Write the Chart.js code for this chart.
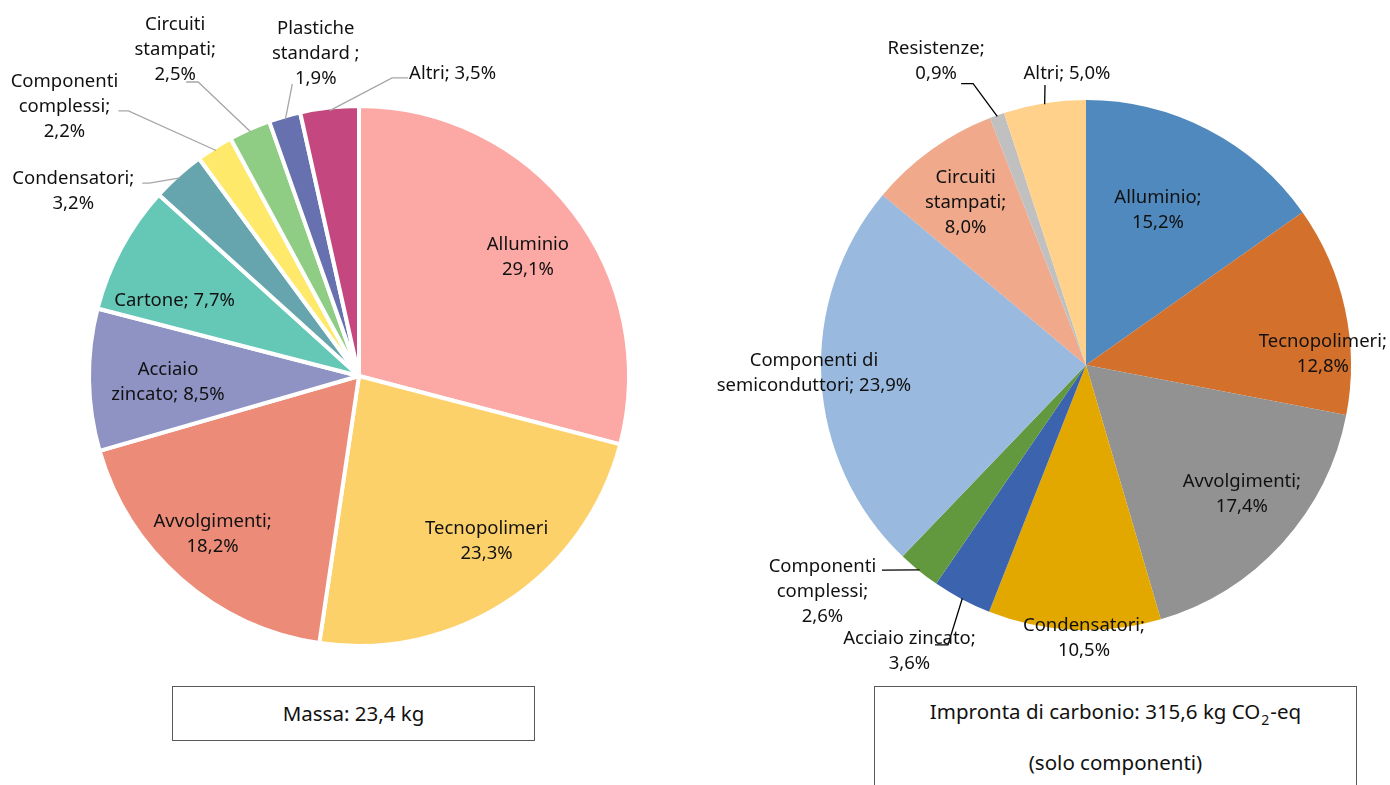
<!DOCTYPE html>
<html><head><meta charset="utf-8">
<script src="https://cdn.jsdelivr.net/npm/chart.js@4"></script>
<style>
html,body{margin:0;padding:0;background:#fff;overflow:hidden;}
#wrap{position:relative;width:1390px;height:785px;}
canvas{position:absolute;left:0;top:0;}
.box{position:absolute;border:1px solid #595959;font-family:"Noto Sans",sans-serif;font-size:20.5px;color:#111;text-align:center;box-sizing:border-box;background:#fff;}
.sub{font-size:14px;position:relative;top:6px;padding:0 1px;}
</style></head>
<body><div id="wrap">
<canvas id="c1" width="1390" height="785"></canvas>
<canvas id="c2" width="1390" height="785"></canvas>
<div class="box" style="left:172px;top:686px;width:363px;height:55px;line-height:53px;">Massa: 23,4 kg</div>
<div class="box" style="left:874px;top:686px;width:483px;height:130px;line-height:49px;padding-top:0px;">Impronta di carbonio: 315,6 kg CO<span class="sub">2</span>-eq<br>(solo componenti)</div>
</div>
<script>
// ---- data ----
const massCategories = ['Alluminio','Tecnopolimeri','Avvolgimenti','Acciaio zincato','Cartone','Condensatori','Componenti complessi','Circuiti stampati','Plastiche standard','Altri'];
const massValues = [29.1,23.3,18.2,8.5,7.7,3.2,2.2,2.5,1.9,3.5];
const massLabelLines = [['Alluminio','{v}'],['Tecnopolimeri','{v}'],['Avvolgimenti;','{v}'],['Acciaio','zincato; {v}'],['Cartone; {v}'],['Condensatori;','{v}'],['Componenti','complessi;','{v}'],['Circuiti','stampati;','{v}'],['Plastiche','standard ;','{v}'],['Altri; {v}']];

const carbonCategories = ['Alluminio','Tecnopolimeri','Avvolgimenti','Condensatori','Acciaio zincato','Componenti complessi','Componenti di semiconduttori','Circuiti stampati','Resistenze','Altri'];
const carbonValues = [15.2,12.8,17.4,10.5,3.6,2.6,23.9,8.0,0.9,5.0];
const carbonLabelLines = [['Alluminio;','{v}'],['Tecnopolimeri;','{v}'],['Avvolgimenti;','{v}'],['Condensatori;','{v}'],['Acciaio zincato;','{v}'],['Componenti','complessi;','{v}'],['Componenti di','semiconduttori; {v}'],['Circuiti','stampati;','{v}'],['Resistenze;','{v}'],['Altri; {v}']];

// ---- styles / layout ----
const massColors = ['#FCA9A6','#FDD16A','#EC8C78','#8F93C4','#65C7B6','#66A4AE','#FEE96A','#8FCD84','#6771AF','#C4487F'];
const carbonColors = ['#4F89BD','#D2702C','#929292','#E2A800','#3C64AE','#62993F','#9AB9DF','#F0A98A','#C0C0C0','#FFD18A'];

const massLayout = [
 {r:.774,da:2.2},{r:.774,da:-4.5},{r:.80,da:1.9},{r:.713,da:-0.7},{r:.746,da:-5.6},
 {r:1.273,da:-14.8,leader:{ox:69,oy:-6.5,hx:7}},
 {r:1.494,da:-15.0,leader:{ox:54,oy:6,hx:10}},
 {r:1.403,da:-5.35,leader:{ox:11,oy:34,hx:12}},
 {r:1.219,da:8.4,leader:{ox:-23.5,oy:32,hx:0}},
 {r:1.187,da:23.4,leader:{ox:-44.5,oy:6,hx:-16}}
];
const carbonLayout = [
 {r:.650,da:-2.7},{r:.895,da:9.3},{r:.760,da:-2.95},{r:1.025,da:-2.1},
 {r:1.263,da:3.9,leader:{ox:25.5,oy:-4.5,hx:13}},
 {r:1.308,da:10.4,leader:{ox:59.5,oy:-20,hx:0}},
 {r:1.027,da:1.8},{r:.768,da:-0.6},
 {r:1.284,da:-6.5,leader:{ox:25,oy:24,hx:12}},
 {r:1.108,da:5.3,leader:{ox:-22,oy:13,hx:0}}
];

function fmt(v){return v.toFixed(1).replace('.',',')+'%';}

function labelPlugin(lines, values, layout, leaderColor){
  return {id:'lbls', afterDatasetsDraw(chart){
    const ctx = chart.ctx; const meta = chart.getDatasetMeta(0);
    ctx.save();
    ctx.font = '18.5px "Noto Sans"'; ctx.textAlign='center'; ctx.textBaseline='middle';
    meta.data.forEach((arc,i)=>{
      const p = arc.getProps(['x','y','startAngle','endAngle','outerRadius'], true);
      const bw = arc.options.borderWidth || 0;
      const R = p.outerRadius - bw/2;
      const mid = (p.startAngle+p.endAngle)/2;
      const L = layout[i];
      const a = mid + L.da*Math.PI/180;
      const cx = p.x + Math.cos(a)*L.r*R, cy = p.y + Math.sin(a)*L.r*R;
      if (L.leader){
        const sx = cx+L.leader.ox, sy = cy+L.leader.oy;
        ctx.beginPath();
        ctx.strokeStyle = leaderColor; ctx.lineWidth = 1.3;
        ctx.moveTo(sx, sy); ctx.lineTo(sx+L.leader.hx, sy);
        ctx.lineTo(p.x+Math.cos(mid)*(R-1), p.y+Math.sin(mid)*(R-1));
        ctx.stroke();
      }
      ctx.fillStyle = '#111';
      const ls = lines[i].map(t=>t.replace('{v}', fmt(values[i])));
      ls.forEach((t,j)=>ctx.fillText(t, cx, cy + 1.5 + (j-(ls.length-1)/2)*25));
    });
    ctx.restore();
  }};
}

new Chart(document.getElementById('c1'), {
  type:'pie',
  data:{labels:massCategories, datasets:[{data:massValues, backgroundColor:massColors, borderColor:'#fff', borderWidth:4, radius:270}]},
  options:{responsive:false, animation:false, events:[],
    layout:{padding:{left:0, top:0, right:672, bottom:33}},
    plugins:{legend:{display:false}, tooltip:{enabled:false}}},
  plugins:[labelPlugin(massLabelLines, massValues, massLayout, '#A6A6A6')]
});
new Chart(document.getElementById('c2'), {
  type:'pie',
  data:{labels:carbonCategories, datasets:[{data:carbonValues, backgroundColor:carbonColors, borderWidth:0, radius:265}]},
  options:{responsive:false, animation:false, events:[],
    layout:{padding:{left:782, top:0, right:0, bottom:55}},
    plugins:{legend:{display:false}, tooltip:{enabled:false}}},
  plugins:[labelPlugin(carbonLabelLines, carbonValues, carbonLayout, '#000')]
});
</script>
</body></html>
